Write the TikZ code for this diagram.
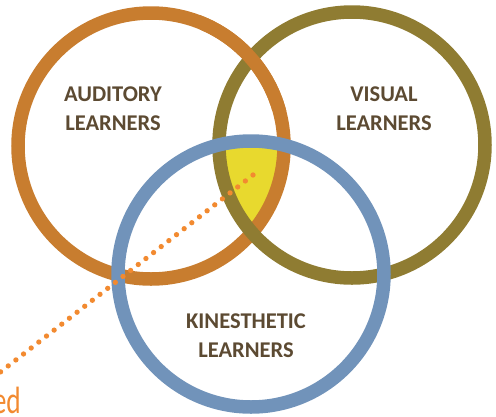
\documentclass[tikz,border=0pt]{standalone}
\usepackage{fontspec}
\setmainfont{Carlito}
\definecolor{audc}{HTML}{C87D2F}
\definecolor{visc}{HTML}{8F7C32}
\definecolor{kinc}{HTML}{7193BA}
\definecolor{yelc}{HTML}{E8D92E}
\definecolor{txtc}{HTML}{5C4A32}
\definecolor{dotc}{HTML}{F28A30}
\begin{document}
\begin{tikzpicture}[x=1pt,y=-1pt,
  ring/.style={line width=13.5pt},
  lbl/.style={text=txtc,align=center,inner sep=0pt,font=\fontsize{22.5}{29}\selectfont\bfseries},
  dotline/.style={dotc,line width=5.3pt,line cap=round,dash pattern=on 0pt off 9.7pt}]
\useasboundingbox (0,0) rectangle (496,416);
\coordinate (A) at (151,146);
\coordinate (V) at (352,145);
\coordinate (K) at (251,274);
% yellow common region
\begin{scope}
  \clip (A) circle[radius=133];
  \clip (V) circle[radius=133];
  \fill[yelc] (K) circle[radius=133];
\end{scope}
\draw[ring,audc] (A) circle[radius=133];
\draw[ring,visc] (V) circle[radius=133];
\begin{scope}
  \clip (200,0) rectangle (300,110);
  \draw[ring,audc] (A) circle[radius=133];
\end{scope}
\draw[ring,kinc] (K) circle[radius=133];
\node[lbl] (aud) at (113,109) {AUDITORY\\LEARNERS};
\node[lbl] (vis) at (384,109) {VISUAL\\LEARNERS};
\node[lbl] (kin) at (246,336) {KINESTHETIC\\LEARNERS};
\coordinate (p) at (253,175);
\coordinate (q) at (-6,377);
\draw[dotline] (p) -- (q);
\node[anchor=base east,text=dotc,inner sep=0pt,xscale=0.72,transform shape,font=\fontsize{38}{40}\selectfont] (ed) at (21,413) {ed};
\end{tikzpicture}
\end{document}
